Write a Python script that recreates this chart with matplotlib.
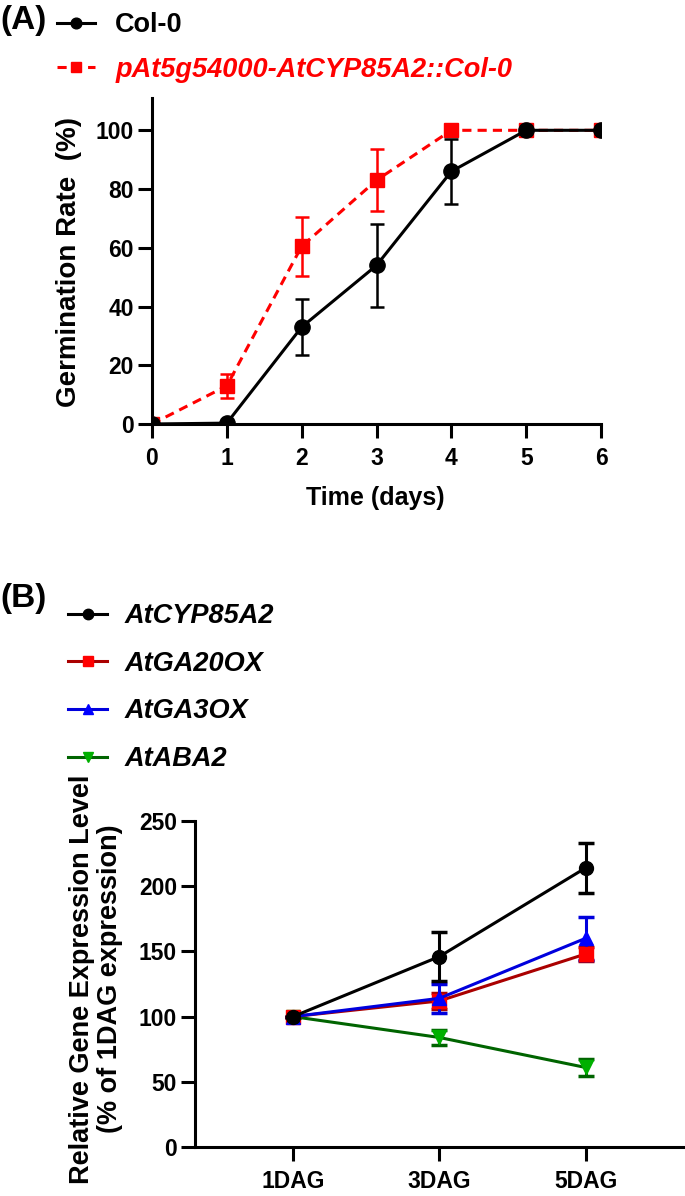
import matplotlib
matplotlib.use("Agg")
import matplotlib.pyplot as plt

plt.rcParams['font.family'] = ['Liberation Sans', 'DejaVu Sans']
plt.rcParams['font.weight'] = 'bold'

# ---- panel A data ----
days = [0, 1, 2, 3, 4, 5, 6]
col0 = [0, 0.3, 33, 54, 86, 100, 100]
col0_err = [0, 0, 9.5, 14, 11, 0, 0]
trans = [0, 13, 60.5, 83, 100, 100, 100]
trans_err = [0, 4, 10, 10.5, 0, 0, 0]
yticks_a = [0, 20, 40, 60, 80, 100]

# ---- panel B data ----
stages = ['1DAG', '3DAG', '5DAG']
cyp = [100, 146, 214]
cyp_err = [0, 19, 19]
ga20 = [100, 112, 148]
ga20_err = [0, 6, 5]
ga3 = [100, 114, 160]
ga3_err = [0, 11, 16.5]
aba2 = [100, 84, 61]
aba2_err = [0, 6, 6.5]
yticks_b = [0, 50, 100, 150, 200, 250]

W, H = 685, 1196
fig = plt.figure(figsize=(W / 100, H / 100), dpi=100)


def style_axes(ax):
    for s in ['top', 'right']:
        ax.spines[s].set_visible(False)
    for s in ['left', 'bottom']:
        ax.spines[s].set_linewidth(2.2)
    ax.tick_params(width=2.2, length=10, labelsize=16.5)
    ax.tick_params(axis='x', pad=6.5)
    ax.tick_params(axis='y', pad=3)
    for lab in ax.get_xticklabels() + ax.get_yticklabels():
        lab.set_fontweight('bold')


# ---------------- panel A ----------------
axA = fig.add_axes([152 / W, 1 - 424 / H, (601 - 152) / W, (424 - 98) / H])
eT = axA.errorbar(days, trans, yerr=trans_err, color='#ff0000', lw=2.2, dashes=(3, 2),
                  marker='s', ms=10, mec='#ff0000', capsize=5, elinewidth=1.8,
                  capthick=1.8, zorder=3)
eC = axA.errorbar(days, col0, yerr=col0_err, color='black', lw=2.2,
                  marker='o', ms=11, capsize=5, elinewidth=1.8, capthick=1.8, zorder=4)
axA.set_xlim(0, 6)
axA.set_ylim(0, 111)
axA.set_yticks(yticks_a)
axA.set_xticks(days)
style_axes(axA)

legA = fig.legend([eC[0], eT[0]], ['Col-0', 'pAt5g54000-AtCYP85A2::Col-0'],
                  loc='upper left', bbox_to_anchor=(57 / W, 1 - 12 / H),
                  frameon=False, fontsize=19.5, handlelength=1.4, handletextpad=0.75,
                  labelspacing=0.7, borderpad=0, borderaxespad=0, markerscale=0.7)
for t, c, st in zip(legA.get_texts(), ['black', '#ff0000'], ['normal', 'italic']):
    t.set_color(c)
    t.set_fontstyle(st)
    t.set_fontweight('bold')

fig.text(0, 1 - 21 / H, '(A)', fontsize=24, fontweight='bold', ha='left', va='center')
fig.text(69 / W, 1 - 262 / H, 'Germination Rate  (%)', rotation=90, fontsize=20,
         fontweight='bold', ha='center', va='center')
fig.text(375 / W, 1 - 498 / H, 'Time (days)', fontsize=18, fontweight='bold',
         ha='center', va='center')

# ---------------- panel B ----------------
axB = fig.add_axes([195 / W, 1 - 1147 / H, (W - 195) / W, (1147 - 821) / H])
xb = list(range(len(stages)))
kw = dict(lw=2.2, ms=10, capsize=5.5, elinewidth=2.2, capthick=2.5)
eA = axB.errorbar(xb, aba2, yerr=aba2_err, color='#006400', marker='v', mfc='#00b000',
                  mec='#00b000', **kw)
e20 = axB.errorbar(xb, ga20, yerr=ga20_err, color='#aa0000', marker='s', mfc='#ff0000',
                   mec='#ff0000', **kw)
e3 = axB.errorbar(xb, ga3, yerr=ga3_err, color='#0000dd', marker='^', mfc='#0000ff',
                  mec='#0000ff', **kw)
eY = axB.errorbar(xb, cyp, yerr=cyp_err, color='black', marker='o', **kw)
axB.set_xlim(-0.67, 2.68)
axB.set_ylim(0, 250)
axB.set_xticks(xb)
axB.set_xticklabels(stages)
axB.set_yticks(yticks_b)
style_axes(axB)

legB = fig.legend([eY[0], e20[0], e3[0], eA[0]],
                  ['AtCYP85A2', 'AtGA20OX', 'AtGA3OX', 'AtABA2'], loc='upper left',
                  bbox_to_anchor=(68 / W, 1 - 603 / H), frameon=False, fontsize=19.5,
                  handlelength=1.45, handletextpad=0.62, labelspacing=0.8, borderpad=0,
                  borderaxespad=0, markerscale=0.75)
for t in legB.get_texts():
    t.set_fontstyle('italic')
    t.set_fontweight('bold')

fig.text(0, 1 - 598 / H, '(B)', fontsize=24, fontweight='bold', ha='left', va='center')
fig.text(96 / W, 1 - 979 / H, 'Relative Gene Expression Level\n(% of 1DAG expression)',
         rotation=90, fontsize=19.5, fontweight='bold', ha='center', va='center',
         linespacing=1.1)

fig.savefig('out.png', dpi=100)
